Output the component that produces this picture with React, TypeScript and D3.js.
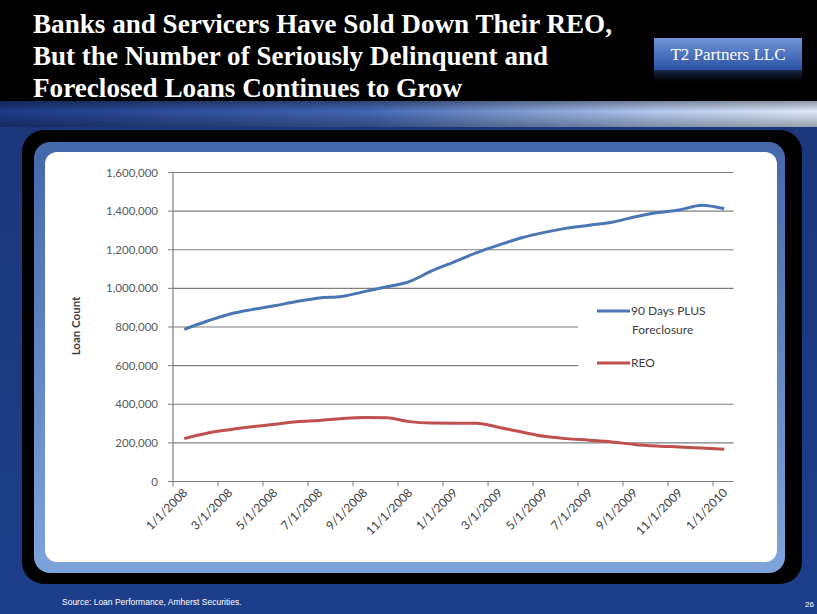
import React from "react";
import * as d3 from "d3";

const months: string[] = [
  "1/1/2008","2/1/2008","3/1/2008","4/1/2008","5/1/2008","6/1/2008","7/1/2008","8/1/2008",
  "9/1/2008","10/1/2008","11/1/2008","12/1/2008","1/1/2009","2/1/2009","3/1/2009","4/1/2009",
  "5/1/2009","6/1/2009","7/1/2009","8/1/2009","9/1/2009","10/1/2009","11/1/2009","12/1/2009","1/1/2010",
];
const delinquent: number[] = [
  788000, 830000, 866000, 890000, 910000, 932000, 950000, 958000, 983000, 1008000, 1035000, 1090000,
  1137000, 1185000, 1225000, 1262000, 1290000, 1312000, 1327000, 1342000, 1370000, 1392000, 1406000, 1430000, 1412000,
];
const reo: number[] = [
  222000, 250000, 268000, 283000, 296000, 310000, 316000, 326000, 332000, 330000, 310000, 303000,
  302000, 302000, 280000, 256000, 234000, 222000, 214000, 205000, 192000, 184000, 179000, 173000, 167000,
];
const yTicks: number[] = [0, 200000, 400000, 600000, 800000, 1000000, 1200000, 1400000, 1600000];
const seriesNames: string[] = ["90 Days PLUS", "Foreclosure", "REO"];
const titleLines: string[] = [
  "Banks and Servicers Have Sold Down Their REO,",
  "But the Number of Seriously Delinquent and",
  "Foreclosed Loans Continues to Grow",
];
const titleWidths = [579, 515, 429];

export default function App() {
  const W = 817, H = 614;
  const plotL = 173, plotR = 735.5, plotT = 172.5, plotB = 481.5;
  const x = d3.scaleBand<string>().domain(months).range([plotL, plotR]);
  const xc = (m: string) => (x(m) as number) + x.bandwidth() / 2;
  const y = d3.scaleLinear().domain([0, 1600000]).range([plotB, plotT]);
  const line = d3.line<number>().x((_, i) => xc(months[i])).y((d) => y(d)).curve(d3.curveMonotoneX);
  const fmt = d3.format(",");
  const lblFont = "Lato, 'Open Sans', sans-serif";
  const legL = 578, legR = 735, legT = 292, legB = 395;

  return (
    <svg width={W} height={H} style={{ position: "absolute", left: 0, top: 0 }}>
      <defs>
        <linearGradient id="bandG" x1="0" x2="1" y1="0" y2="0">
          <stop offset="0" stopColor="#1d3a84" />
          <stop offset="0.45" stopColor="#4467b2" />
          <stop offset="0.8" stopColor="#b3c8ec" />
          <stop offset="1" stopColor="#dfe8f8" />
        </linearGradient>
        <linearGradient id="bandV" x1="0" x2="0" y1="0" y2="1">
          <stop offset="0" stopColor="#000" stopOpacity="0.35" />
          <stop offset="0.4" stopColor="#000" stopOpacity="0" />
          <stop offset="1" stopColor="#000" stopOpacity="0.3" />
        </linearGradient>
        <linearGradient id="bgG" x1="0" x2="0" y1="0" y2="1">
          <stop offset="0" stopColor="#1b3576" />
          <stop offset="1" stopColor="#1d3e8a" />
        </linearGradient>
        <linearGradient id="t2G" x1="0" x2="0" y1="0" y2="1">
          <stop offset="0" stopColor="#6f95d6" />
          <stop offset="1" stopColor="#2a53a6" />
        </linearGradient>
        <linearGradient id="t2R" x1="0" x2="0" y1="0" y2="1">
          <stop offset="0" stopColor="#2a4a8a" stopOpacity="0.6" />
          <stop offset="1" stopColor="#000" stopOpacity="0" />
        </linearGradient>
        <linearGradient id="bevG" x1="0" x2="0" y1="0" y2="1">
          <stop offset="0" stopColor="#4468aa" />
          <stop offset="1" stopColor="#7ea4dc" />
        </linearGradient>
      </defs>

      {/* background */}
      <rect x={0} y={0} width={W} height={H} fill="url(#bgG)" />
      <rect x={0} y={0} width={W} height={101} fill="#000" />
      <rect x={0} y={101} width={W} height={26} fill="url(#bandG)" />
      <rect x={0} y={101} width={W} height={26} fill="url(#bandV)" />

      {/* title */}
      {titleLines.map((t, i) => (
        <text key={i} x={33} y={33 + i * 32} fill="#fff" fontFamily="'Liberation Serif', 'Times New Roman', serif"
          fontWeight="bold" fontSize={28} textLength={titleWidths[i]} lengthAdjust="spacingAndGlyphs">{t}</text>
      ))}

      {/* T2 box */}
      <rect x={654} y={38} width={148} height={32} fill="url(#t2G)" />
      <text x={728} y={60} fill="#fff" fontFamily="'Liberation Serif', serif" fontSize={17} textAnchor="middle">T2 Partners LLC</text>
      <rect x={654} y={70} width={148} height={16} fill="url(#t2R)" />

      {/* panel */}
      <rect x={22} y={130} width={780} height={454} rx={22} fill="#000" />
      <rect x={34} y={142} width={751} height={431} rx={16} fill="url(#bevG)" />
      <rect x={45} y={152} width={732} height={410} rx={12} fill="#fff" />

      {/* gridlines */}
      {yTicks.map((t) => (
        <line key={t} x1={plotL} x2={plotR - 2} y1={y(t)} y2={y(t)} stroke="#7f7f7f" strokeWidth={1.2} />
      ))}
      {/* legend background covers gridlines */}
      <rect x={legL} y={legT} width={legR - legL} height={legB - legT} fill="#fff" />

      {/* axes */}
      <line x1={plotL} x2={plotL} y1={plotT} y2={plotB} stroke="#7f7f7f" strokeWidth={1.2} />
      {yTicks.map((t) => (
        <g key={"yt" + t}>
          <line x1={plotL - 5} x2={plotL} y1={y(t)} y2={y(t)} stroke="#7f7f7f" />
          <text x={plotL - 15} y={y(t) + 4} textAnchor="end" fontFamily={lblFont} fontSize={11.5} fill="#595959">{fmt(t)}</text>
        </g>
      ))}
      {months.map((m, i) => i % 2 === 0 ? (
        <line key={"xt" + m} x1={x(m) as number} x2={x(m) as number} y1={plotB} y2={plotB + 5} stroke="#7f7f7f" />
      ) : null)}
      {months.map((m, i) => i % 2 === 0 ? (
        <text key={"xl" + m} transform={`translate(${xc(m) + 4},${plotB + 12}) rotate(-45)`} textAnchor="end"
          fontFamily={lblFont} fontSize={12} fill="#404040">{m}</text>
      ) : null)}
      <text transform={`translate(80,326) rotate(-90)`} textAnchor="middle" fontFamily={lblFont} fontWeight="bold"
        fontSize={11.5} fill="#404040">Loan Count</text>

      {/* lines */}
      <path d={line(delinquent) as string} fill="none" stroke="#4a76b5" strokeWidth={3} strokeLinejoin="round" />
      <path d={line(reo) as string} fill="none" stroke="#c0504d" strokeWidth={3} strokeLinejoin="round" />

      {/* legend */}
      <line x1={597} x2={630} y1={311} y2={311} stroke="#4a76b5" strokeWidth={3} />
      <text x={631} y={315} fontFamily={lblFont} fontSize={12} fill="#404040">{seriesNames[0]}</text>
      <text x={632} y={334} fontFamily={lblFont} fontSize={12} fill="#404040">{seriesNames[1]}</text>
      <line x1={597} x2={630} y1={363} y2={363} stroke="#c0504d" strokeWidth={3} />
      <text x={631} y={367} fontFamily={lblFont} fontSize={12} fill="#404040">{seriesNames[2]}</text>

      {/* footer */}
      <text x={62} y={605} fill="#fff" fontFamily="'Liberation Sans', Arial, sans-serif" fontSize={8.5}>Source:  Loan Performance, Amherst Securities.</text>
      <text x={805} y={607} fill="#fff" fontFamily="'Liberation Sans', Arial, sans-serif" fontSize={8}>26</text>
    </svg>
  );
}
